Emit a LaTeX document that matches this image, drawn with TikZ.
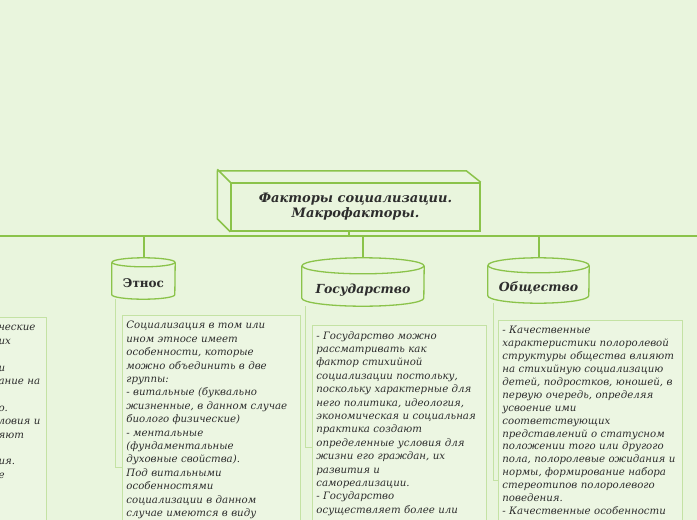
\documentclass[tikz,border=0pt]{standalone}
\usepackage{fontspec}
\setmainfont{DejaVu Serif}

\definecolor{paper}{RGB}{233,245,221}
\definecolor{notefill}{RGB}{236,246,226}
\definecolor{leaf}{RGB}{139,195,74}
\definecolor{pale}{RGB}{196,226,164}
\definecolor{ink}{RGB}{45,45,45}

\begin{document}
\begin{tikzpicture}[x=1pt,y=-1pt,
  link/.style={leaf, line width=2pt},
  twig/.style={pale, line width=0.8pt},
  cask/.style={leaf, line width=1.3pt, line join=round},
  hub/.style={draw=leaf, line width=1.5pt, fill=paper, minimum width=249pt, minimum height=48pt, align=center, text=ink, font=\bfseries\itshape\fontsize{13}{15}\selectfont},
  factor/.style={inner sep=0pt, text=ink, font=\bfseries\itshape\fontsize{12.5}{14}\selectfont},
  note/.style={draw=pale, line width=0.8pt, fill=notefill, anchor=north west, align=left, inner xsep=4pt, inner ysep=5pt, text=ink, text depth=220pt, font=\itshape\fontsize{10.2}{13.4}\selectfont}]
\useasboundingbox (0,0) rectangle (697,520);
\fill[paper] (0,0) rectangle (697,520);
\clip (0,0) rectangle (697,520);

% main line
\coordinate (bus west) at (0,236);
\coordinate (bus east) at (697,236);
\draw[link, line width=2.5pt] (bus west) -- (bus east);

% central box
\node[hub] (title) at (355.5,207) {Факторы социализации.\\Макрофакторы.};
\draw[leaf, line width=1.5pt, line join=round] (title.south west) -- ++(-13,-13) -- ++(0,-48) -- ++(249,0) -- (title.north east)
  (title.north west) -- ++(-13,-13);
\draw[link, line width=1.5pt] ([xshift=-6.5pt]title.south) -- ([xshift=-6.5pt]title.south |- bus west);

% factors
\node[factor, minimum width=63pt, minimum height=32pt, font=\bfseries\fontsize{12}{14}\selectfont] (etnos) at (143.5,283) {Этнос};
\node[factor, minimum width=122pt, minimum height=32pt] (state) at (363,290) {Государство};
\node[factor, minimum width=101pt, minimum height=30pt] (society) at (538.5,288) {Общество};
\foreach \n/\ry/\rx in {etnos/4.5/31.5, state/8/61, society/7.5/50.5} {
  \draw[cask] ([yshift=\ry*1pt]\n.north west) -- ([yshift=\ry*1pt]\n.south west)
    arc[start angle=180, end angle=0, x radius=\rx, y radius=\ry] -- ([yshift=\ry*1pt]\n.north east);
  \draw[cask] ([yshift=\ry*1pt]\n.north) ellipse[x radius=\rx, y radius=\ry];
  \coordinate (\n-top) at ([yshift=2*\ry*1pt]\n.north);
}
\draw[link] (etnos-top |- bus west) -- (etnos-top);
\draw[link] (state-top |- bus west) -- (state-top);
\draw[link] (society-top |- bus west) -- (society-top);

% notes
\node[note, anchor=north east, text width=44pt, inner ysep=8pt] (side note) at (47,317)
  {ческие\\их\\\mbox{}\\и\\ание на\\\mbox{}\\о.\\ловия и\\яют\\\mbox{}\\ия.\\е};
\node[note, text width=170pt, inner ysep=6pt] (etnos note) at (122,315)
  {Социализация в том или\\
   ином этносе имеет\\
   особенности, которые\\
   можно объединить в две\\
   группы:\\
   - витальные (буквально\\
   жизненные, в данном случае\\
   биолого физические)\\
   - ментальные\\
   (фундаментальные\\
   духовные свойства).\\
   Под витальными\\
   особенностями\\
   социализации в данном\\
   случае имеются в виду};
\node[note, text width=166pt, inner ysep=6pt] (state note) at (312,325)
  {- Государство можно\\
   рассматривать как\\
   фактор стихийной\\
   социализации постольку,\\
   поскольку характерные для\\
   него политика, идеология,\\
   экономическая и социальная\\
   практика создают\\
   определенные условия для\\
   жизни его граждан, их\\
   развития и\\
   самореализации.\\
   - Государство\\
   осуществляет более или};
\node[note, text width=176pt, inner ysep=6pt, font=\itshape\fontsize{10.2}{12.9}\selectfont] (society note) at (498,320)
  {- Качественные\\
   характеристики полоролевой\\
   структуры общества влияют\\
   на стихийную социализацию\\
   детей, подростков, юношей, в\\
   первую очередь, определяя\\
   усвоение ими\\
   соответствующих\\
   представлений о статусном\\
   положении того или другого\\
   пола, полоролевые ожидания и\\
   нормы, формирование набора\\
   стереотипов полоролевого\\
   поведения.\\
   - Качественные особенности};

% thin connectors
\draw[twig] ([xshift=4pt]etnos.south west) |- ([yshift=-152pt]etnos note.north west);
\draw[twig] ([xshift=4pt]state.south west) |- ([yshift=-122pt]state note.north west);
\draw[twig] ([xshift=6pt]society.south west) |- ([yshift=-160pt]society note.north west);
\end{tikzpicture}
\end{document}
